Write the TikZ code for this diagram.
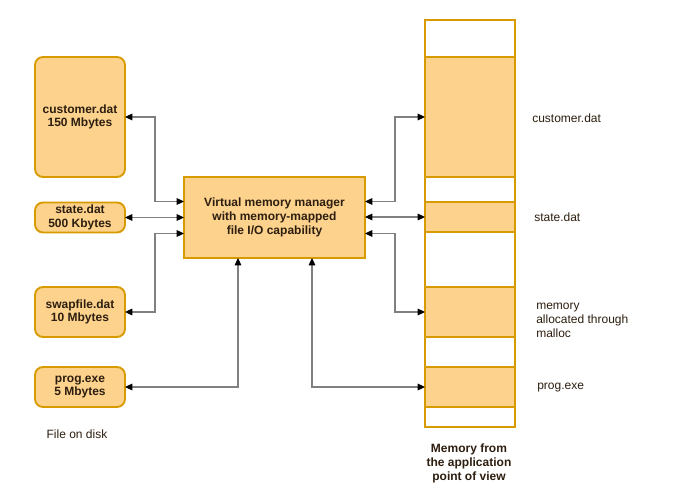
\documentclass[tikz,border=0pt]{standalone}
\usepackage{fontspec}
\setmainfont{Liberation Sans}
\usetikzlibrary{arrows.meta,calc}
\definecolor{orstroke}{HTML}{D79B00}
\definecolor{orfill}{HTML}{FCD28D}
\definecolor{txt}{HTML}{2D1E0F}
\definecolor{linkc}{HTML}{808080}
\tikzset{
  filebox/.style={draw=orstroke, fill=orfill, line width=1.4pt, rounded corners=6pt,
    text=txt, font=\fontsize{9}{10}\selectfont\bfseries, align=center,
    inner sep=0pt, outer sep=0pt, minimum width=67.5pt},
  vmmbox/.style={draw=orstroke, fill=orfill, line width=1.4pt,
    text=txt, font=\fontsize{9}{10.5}\selectfont\bfseries, align=center,
    inner sep=0pt, outer sep=0pt, minimum width=135.75pt, minimum height=60.75pt},
  segfull/.style={draw=orstroke, fill=orfill, line width=1.4pt, inner sep=0pt, outer sep=0pt, minimum width=67.5pt},
  segempty/.style={draw=orstroke, fill=white, line width=1.4pt, inner sep=0pt, outer sep=0pt, minimum width=67.5pt},
  link/.style={draw=linkc, line width=0.8pt,
    {Triangle[length=5.5pt,width=5pt,black]}-{Triangle[length=5.5pt,width=5pt,black]}},
  memlabel/.style={anchor=west, text=txt, font=\fontsize{9}{10.5}\selectfont, align=left, inner sep=0pt},
  caption/.style={text=txt, font=\fontsize{9}{10.5}\selectfont, align=center, inner sep=0pt}
}
\begin{document}
\begin{tikzpicture}[x=0.75pt,y=-0.75pt]
\useasboundingbox[fill=white] (0,0) rectangle (697,503);

% files on disk
\node[filebox, minimum height=90pt] (cust) at (80,117) {customer.dat\\150 Mbytes};
\node[filebox, minimum height=22.5pt] (state) at (80,217.5) {state.dat\\500 Kbytes};
\node[filebox, minimum height=37.5pt] (swap) at (80,312) {swapfile.dat\\10 Mbytes};
\node[filebox, minimum height=30pt] (prog) at (80,387) {prog.exe\\5 Mbytes};
\node[caption] (disk) at (77,434) {File on disk};

% virtual memory manager
\node[vmmbox] (vmm) at (274.5,217.5) {Virtual memory manager\\with memory-mapped\\file I/O capability};

% memory column
\node[segempty, minimum height=27.75pt] (m0) at (470,38.5) {};
\node[segfull,  minimum height=90pt]    (m1) at (470,117) {};
\node[segempty, minimum height=18.75pt] (m2) at (470,189.5) {};
\node[segfull,  minimum height=22.5pt]  (m3) at (470,217) {};
\node[segempty, minimum height=41.25pt] (m4) at (470,259.5) {};
\node[segfull,  minimum height=37.5pt]  (m5) at (470,312) {};
\node[segempty, minimum height=22.5pt]  (m6) at (470,352) {};
\node[segfull,  minimum height=30pt]    (m7) at (470,387) {};
\node[segempty, minimum height=15pt]    (m8) at (470,417) {};

\node[memlabel] (l1) at (532,118) {customer.dat};
\node[memlabel] (l3) at (534,217) {state.dat};
\node[memlabel] (l5) at (536,320) {memory\\allocated through\\malloc};
\node[memlabel] (l7) at (537,388) {prog.exe};
\node[caption, font=\fontsize{9}{10.5}\selectfont\bfseries] (memcap) at (469,463) {Memory from\\the application\\point of view};

% helper coordinates
\coordinate (v1) at ($(vmm.west)+(0,-16)$);
\coordinate (v3) at ($(vmm.west)+(0,16)$);
\coordinate (w1) at ($(vmm.east)+(0,-16)$);
\coordinate (w3) at ($(vmm.east)+(0,16)$);
\coordinate (lx) at (155,0);
\coordinate (rx) at (395,0);
\coordinate (b1) at ($(vmm.south)+(-36.5,0)$);
\coordinate (b2) at ($(vmm.south)+(37.5,0)$);

% connectors left
\draw[link] (cust.east) -| (lx |- v1) -- (v1);
\draw[link] (state.east |- vmm.west) -- (vmm.west);
\draw[link] (swap.east) -| (lx |- v3) -- (v3);
\draw[link] (prog.east) -| (b1);

% connectors right
\draw[link] (w1) -| (rx |- m1.west) -- (m1.west);
\draw[link] (vmm.east |- m3.west) -- (m3.west);
\draw[link] (w3) -| (rx |- m5.west) -- (m5.west);
\draw[link] (b2) |- (m7.west);
\end{tikzpicture}
\end{document}
